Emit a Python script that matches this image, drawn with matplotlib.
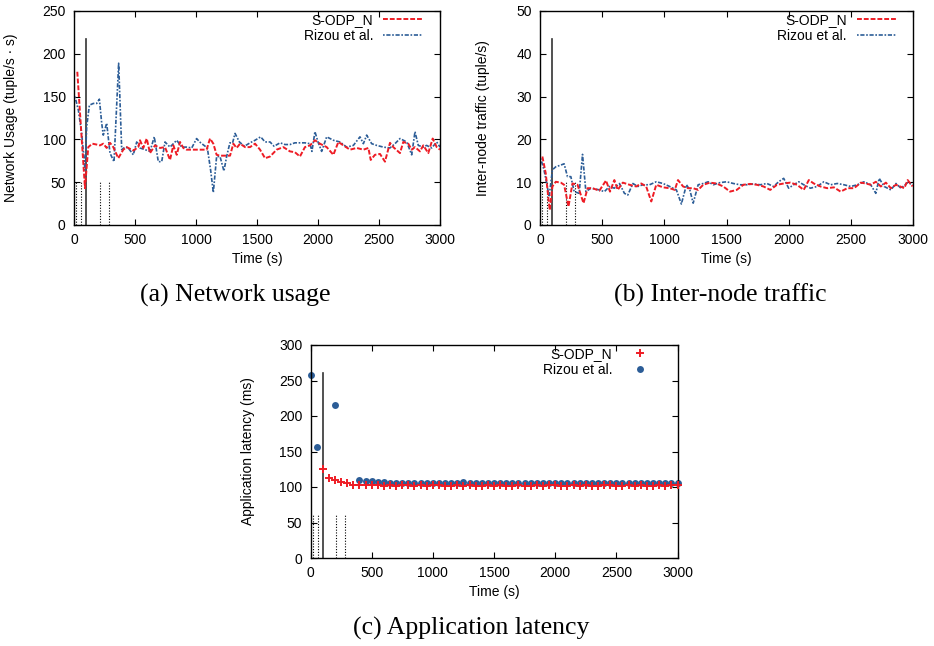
import matplotlib
matplotlib.use("Agg")
import matplotlib.pyplot as plt

plt.rcParams["font.family"] = ["Liberation Sans", "DejaVu Sans"]

# ── Data ─────────────────────────────────────────────────────────────────────

# (a) Network usage
NU_SODP_T = [27, 90, 117, 150, 185, 213, 240, 268, 295, 322, 363, 404, 432, 486, 527,
             541, 568, 596, 623, 664, 705, 746, 787, 814, 842, 869, 896, 923, 1000, 1087,
             1115, 1142, 1169, 1197, 1279, 1306, 1333, 1361, 1402, 1443, 1484, 1525, 1566,
             1607, 1661, 1716, 1770, 1811, 1852, 1893, 1934, 1975, 2016, 2071, 2126, 2167,
             2208, 2262, 2317, 2372, 2413, 2432, 2467, 2508, 2549, 2590, 2617, 2672, 2699,
             2740, 2768, 2795, 2836, 2863, 2904, 2940, 2973, 3000]
NU_SODP = [179, 43, 91, 95, 94, 93, 95, 90, 96, 91, 78, 88, 91, 87, 91,
           99, 90, 101, 84, 93, 90, 91, 76, 93, 82, 97, 90, 88, 88, 88,
           101, 95, 82, 81, 81, 95, 90, 95, 91, 91, 95, 88, 78,
           80, 88, 91, 86, 85, 80, 91, 93, 99, 95, 91, 82, 97,
           93, 88, 90, 88, 90, 76, 82, 83, 74, 96, 91, 84, 97,
           95, 88, 91, 86, 93, 84, 101, 91, 88]

NU_RIZOU_T = [8, 36, 63, 90, 104, 126, 158, 186, 208, 227, 240, 268, 295, 328, 366,
              391, 418, 445, 486, 514, 541, 582, 623, 658, 691, 719, 746, 787, 842, 883,
              923, 965, 1005, 1030, 1093, 1120, 1142, 1169, 1197, 1229, 1251, 1278, 1300,
              1320, 1356, 1397, 1443, 1484, 1530, 1566, 1607, 1640, 1689, 1730, 1770, 1811,
              1852, 1893, 1934, 1950, 1975, 2000, 2030, 2071, 2126, 2180, 2235, 2290, 2344,
              2372, 2399, 2440, 2481, 2536, 2590, 2631, 2672, 2727, 2768, 2795, 2822, 2863,
              2890, 2932, 2973, 3000]
NU_RIZOU = [150, 134, 107, 64, 115, 140, 142, 142, 147, 119, 105, 119, 84, 74, 189,
            88, 91, 90, 82, 97, 90, 88, 86, 103, 74, 74, 97, 91, 99, 91,
            91, 90, 101, 97, 90, 64, 38, 80, 80, 63, 80, 96, 96,
            107, 97, 92, 96, 99, 103, 97, 97, 92, 96, 94, 94, 96,
            96, 96, 95, 86, 109, 97, 86, 103, 99, 97, 91, 93, 103,
            95, 105, 95, 93, 91, 90, 95, 101, 97, 82, 109, 93, 91,
            93, 90, 97, 91]

# (b) Inter-node traffic
IT_SODP_T = [19, 46, 78, 100, 127, 167, 194, 229, 261, 302, 350, 383, 423, 477, 531,
             563, 598, 625, 666, 720, 774, 814, 854, 895, 935, 989, 1043, 1084, 1110, 1151,
             1191, 1232, 1272, 1313, 1367, 1420, 1474, 1528, 1582, 1636, 1690, 1744, 1798,
             1852, 1906, 1960, 2013, 2067, 2121, 2162, 2202, 2256, 2310, 2364, 2418, 2472,
             2526, 2580, 2620, 2660, 2701, 2741, 2782, 2822, 2863, 2930, 2957, 2997]
IT_SODP = [16.0, 12.1, 3.5, 9.0, 10.1, 9.9, 9.4, 4.3, 9.7, 9.4, 5.1, 8.6, 8.6, 8.0, 10.4,
           7.8, 10.5, 8.2, 9.9, 9.4, 9.0, 9.7, 9.0, 5.5, 9.4, 8.8, 8.6, 8.2, 10.5, 9.0,
           8.6, 8.6, 8.2, 9.4, 9.9, 9.7, 9.0, 7.8, 8.2, 9.4, 9.6, 9.4, 9.0,
           8.2, 9.4, 9.7, 9.9, 9.4, 8.2, 10.5, 9.7, 9.0, 8.6, 8.8, 7.8, 8.6,
           8.6, 9.9, 9.7, 9.4, 10.1, 9.0, 9.9, 8.6, 9.4, 8.6, 10.5, 9.0]

IT_RIZOU_T = [5, 32, 59, 73, 100, 127, 167, 194, 221, 248, 275, 315, 342, 369, 410,
              464, 518, 558, 598, 639, 679, 706, 747, 787, 827, 881, 935, 989, 1043, 1097,
              1137, 1178, 1205, 1232, 1272, 1313, 1353, 1394, 1447, 1501, 1555, 1609, 1663,
              1717, 1771, 1825, 1879, 1919, 1960, 2000, 2040, 2081, 2121, 2175, 2229, 2283,
              2337, 2391, 2445, 2499, 2553, 2606, 2660, 2701, 2728, 2768, 2822, 2863, 2903,
              2957, 3000]
IT_RIZOU = [15.6, 12.9, 9.0, 6.6, 12.9, 13.6, 14.0, 14.3, 11.3, 11.3, 7.8, 7.4, 16.5, 7.8, 8.6,
            8.3, 7.8, 9.0, 8.6, 9.7, 7.4, 7.0, 9.7, 9.0, 9.4, 9.4, 10.1, 9.7, 9.0, 8.2,
            4.9, 9.4, 8.2, 5.1, 9.4, 9.7, 10.1, 9.4, 9.9, 10.1, 9.7, 9.4, 9.4,
            9.6, 9.4, 9.7, 9.0, 10.1, 10.9, 8.6, 9.4, 10.1, 9.4, 8.6, 9.0, 10.1,
            9.4, 9.7, 9.4, 9.0, 9.4, 10.1, 9.4, 7.4, 10.9, 9.0, 8.2, 9.7, 8.6,
            9.9, 9.4]

# (c) Application latency
AL_SODP_T = [100, 150, 200, 250, 300, 350, 400, 450, 500, 550, 600, 650, 700, 750, 800,
             850, 900, 950, 1000, 1050, 1100, 1150, 1200, 1250, 1300, 1350, 1400, 1450,
             1500, 1550, 1600, 1650, 1700, 1750, 1800, 1850, 1900, 1950, 2000, 2050, 2100,
             2150, 2200, 2250, 2300, 2350, 2400, 2450, 2500, 2550, 2600, 2650, 2700, 2750,
             2800, 2850, 2900, 2950, 3000]
AL_SODP = [125, 113, 110, 107, 106, 103.5, 103.5, 103, 103, 102.5, 102, 102.5, 102, 102.5,
           102.5, 102, 102.5, 102, 102.5, 102.5, 102, 102, 102.5, 102, 102.5, 102, 102,
           102.5, 102, 102.5, 102, 102, 102.5, 102, 102, 102.5, 102, 102.5, 102.5, 102,
           102, 102.5, 102, 102.5, 102, 102, 102.5, 102.5, 102, 102, 102.5, 102, 102.5,
           102, 102, 102.5, 102, 102.5, 102.5]

AL_RIZOU_T = [0, 50, 200, 400, 450, 500, 550, 600, 650, 700, 750, 800, 850, 900, 950,
              1000, 1050, 1100, 1150, 1200, 1250, 1300, 1350, 1400, 1450, 1500, 1550,
              1600, 1650, 1700, 1750, 1800, 1850, 1900, 1950, 2000, 2050, 2100, 2150,
              2200, 2250, 2300, 2350, 2400, 2450, 2500, 2550, 2600, 2650, 2700, 2750,
              2800, 2850, 2900, 2950, 3000]
AL_RIZOU = [258, 156, 216, 110, 109, 109, 107.5, 106.5, 106, 106, 106, 106, 106, 106, 106,
            106, 105.5, 105.5, 106, 105.5, 107, 105.5, 105.5, 105.5, 105.5, 106, 105.5,
            105.5, 105.5, 105.5, 106, 105.5, 105.5, 105.5, 105.5, 105.5, 105.5, 105.5,
            105.5, 105.5, 105.5, 105.5, 105.5, 105.5, 105.5, 105.5, 105.5, 105.5, 105.5,
            105, 105, 105.5, 105.5, 105.5, 105.5, 105]

# event markers (time, s)
SOLID_T = 100
DOTTED_T = [20, 60, 210, 285]

# ── Style ────────────────────────────────────────────────────────────────────

RED = "#ee1c25"
BLUE = "#2c5d97"
FS = 10
DPI = 100
W, H = 934, 646


def frame(ax, ymax, ystep):
    ax.set_xlim(0, 3000)
    ax.set_ylim(0, ymax)
    ax.set_xticks(range(0, 3001, 500))
    ax.set_yticks(range(0, ymax + 1, ystep))
    ax.tick_params(direction="in", top=True, right=True, length=4, width=0.8,
                   labelsize=FS, pad=6)
    for sp in ax.spines.values():
        sp.set_linewidth(1.0)
    ax.axvline(SOLID_T, ymin=0, ymax=0.87, color="#333333", lw=1.2, zorder=1)
    for t in DOTTED_T:
        ax.axvline(t, ymin=0, ymax=0.2, color="black", lw=0.8,
                   linestyle=(0, (1, 1.5)), zorder=1)
    ax.set_xlabel("Time (s)", fontsize=FS)


def legend(ax, x, y, hlen=2.9, hpad=0.7):
    ax.legend(loc="upper right", bbox_to_anchor=(x, y), frameon=False,
              markerfirst=False, fontsize=FS, borderpad=0, borderaxespad=0,
              labelspacing=0.12, handletextpad=hpad, handlelength=hlen)


fig = plt.figure(figsize=(W / DPI, H / DPI), dpi=DPI)


def add_ax(left, top, right, bottom):
    return fig.add_axes([left / W, 1 - bottom / H, (right - left) / W, (bottom - top) / H])


ax_a = add_ax(74, 11, 440, 225)
ax_b = add_ax(540, 11, 913, 225)
ax_c = add_ax(310.5, 345, 677.5, 558)

# ── (a) Network usage ────────────────────────────────────────────────────────
ax = ax_a
frame(ax, 250, 50)
ax.plot(NU_SODP_T, NU_SODP, color=RED, lw=1.4, linestyle=(0, (2.5, 1)), label="S-ODP_N", zorder=3)
ax.plot(NU_RIZOU_T, NU_RIZOU, color=BLUE, lw=1.2, linestyle=(0, (1, 1, 2.5, 1)),
        label="Rizou et al.", zorder=2)
ax.set_ylabel("Network Usage (tuple/s · s)", fontsize=FS)
ax.yaxis.set_label_coords(-0.153, 0.5)
ax.xaxis.set_label_coords(0.5, -0.125)
legend(ax, 0.954, 0.99)

# ── (b) Inter-node traffic ───────────────────────────────────────────────────
ax = ax_b
frame(ax, 50, 10)
ax.plot(IT_SODP_T, IT_SODP, color=RED, lw=1.4, linestyle=(0, (2.5, 1)), label="S-ODP_N", zorder=3)
ax.plot(IT_RIZOU_T, IT_RIZOU, color=BLUE, lw=1.2, linestyle=(0, (1, 1, 2.5, 1)),
        label="Rizou et al.", zorder=2)
ax.set_ylabel("Inter-node traffic (tuple/s)", fontsize=FS)
ax.yaxis.set_label_coords(-0.134, 0.5)
ax.xaxis.set_label_coords(0.5, -0.125)
legend(ax, 0.957, 0.99)

# ── (c) Application latency ──────────────────────────────────────────────────
ax = ax_c
frame(ax, 300, 50)
ax.plot(AL_SODP_T, AL_SODP, linestyle="none", marker="+", markersize=6, mew=1.4,
        color=RED, label="S-ODP_N", zorder=3, clip_on=False)
ax.plot(AL_RIZOU_T, AL_RIZOU, linestyle="none", marker="o", markersize=5, mew=0,
        color=BLUE, label="Rizou et al.", zorder=2, clip_on=False)
ax.set_ylabel("Application latency (ms)", fontsize=FS)
ax.yaxis.set_label_coords(-0.151, 0.5)
ax.xaxis.set_label_coords(0.5, -0.125)
legend(ax, 0.936, 0.99, hlen=2.0, hpad=1.0)

# ── Captions ─────────────────────────────────────────────────────────────────
CAP = dict(ha="center", va="center", fontsize=18.5, family=["Liberation Serif", "DejaVu Serif"])
fig.text(235 / W, 1 - 295 / H, "(a) Network usage", **CAP)
fig.text(720 / W, 1 - 295 / H, "(b) Inter-node traffic", **CAP)
fig.text(471 / W, 1 - 628 / H, "(c) Application latency", **CAP)

fig.savefig("out.png", dpi=DPI)
